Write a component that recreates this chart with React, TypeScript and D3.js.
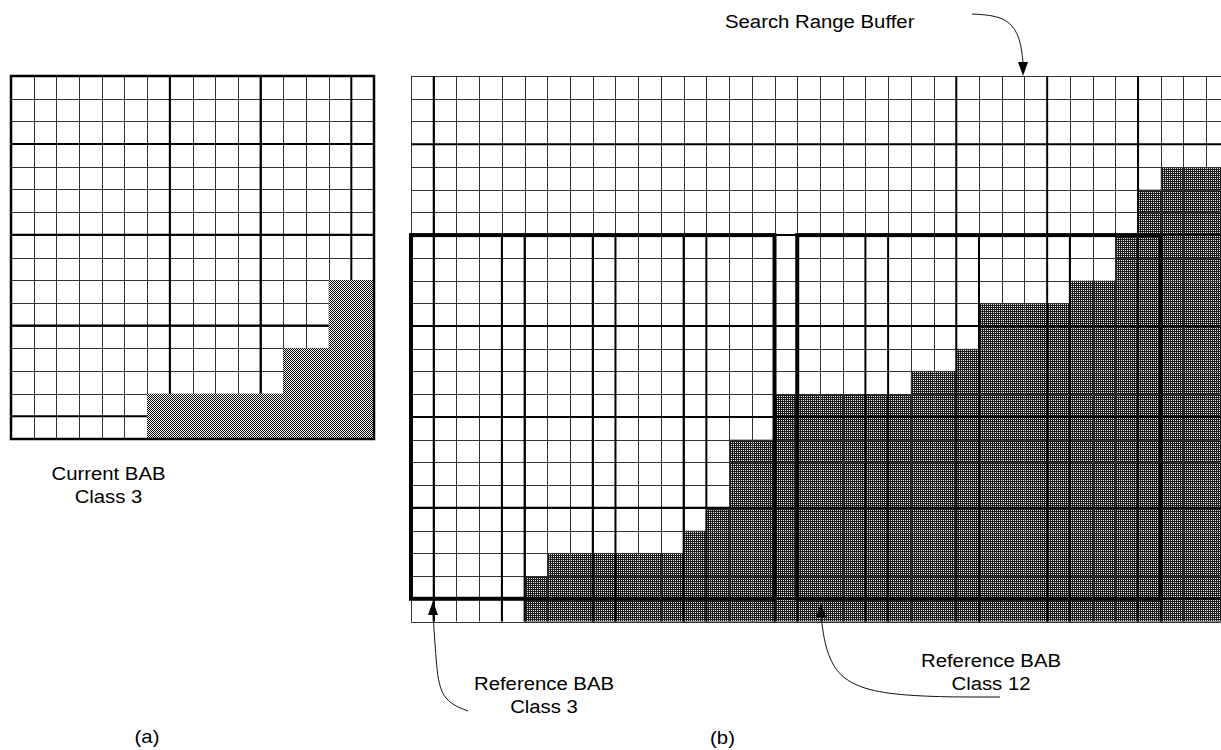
import React from 'react';
import * as d3 from 'd3';

// first shaded row for every column (grid rows count = no shading)
const currentBabShadeTop = [16, 16, 16, 16, 16, 16, 14, 14, 14, 14, 14, 14, 12, 12, 9, 9];
const searchBufferShadeTop = [
  24, 24, 24, 24, 24, 22, 21, 21, 21, 21, 21, 21, 20, 19, 16, 16, 14, 14,
  14, 14, 14, 14, 13, 13, 12, 10, 10, 10, 10, 9, 9, 7, 5, 4, 4, 4,
];

// macroblock boundaries drawn heavier
const leftHeavyCols = [7, 11, 15];
const leftHeavyRows = [3, 7, 11, 15];
const rightHeavyRows = [3, 7, 11, 15, 19, 23];
const rightHeavyColsTop = [1, 24, 28, 32];
const rightHeavyColsLow = [1, 4, 5, 8, 9, 12, 13, 16, 17, 20, 21, 24, 25, 28, 29, 32, 33];

// reference BAB boxes [col0, row0, col1, row1]
const refBoxes = [
  [0, 7, 16, 23],
  [17, 7, 33, 23],
];

const labels = [
  { text: 'Search Range Buffer', x: 725, y: 28, anchor: 'start' },
  { text: 'Current BAB', x: 108.5, y: 480, anchor: 'middle' },
  { text: 'Class 3', x: 108.5, y: 503, anchor: 'middle' },
  { text: 'Reference BAB', x: 544, y: 690, anchor: 'middle' },
  { text: 'Class 3', x: 544, y: 713, anchor: 'middle' },
  { text: 'Reference BAB', x: 991, y: 667, anchor: 'middle' },
  { text: 'Class 12', x: 991, y: 690, anchor: 'middle' },
  { text: '(a)', x: 147, y: 743, anchor: 'middle' },
  { text: '(b)', x: 722.5, y: 744, anchor: 'middle' },
];

const W = 1221;
const H = 750;
const px = (v: number) => Math.round(v) + 0.5;

export default function App() {
  const nL = currentBabShadeTop.length;
  const xL = d3.scaleLinear().domain([0, nL]).range([11, 374]);
  const yL = d3.scaleLinear().domain([0, 16]).range([76, 439]);

  const nR = searchBufferShadeTop.length;
  const xR = d3.scaleLinear().domain([0, 36]).range([411, 411 + 36 * 22.72]);
  const yR = d3.scaleLinear().domain([0, 24]).range([76, 621.5]);

  const font = { fontFamily: '"Liberation Sans", Arial, sans-serif', fontSize: 18, fill: '#000' };

  const line = d3.line<[number, number]>().curve(d3.curveBasis);

  return (
    <svg width={W} height={H} style={{ position: 'absolute', left: 0, top: 0, background: '#fff' }}>
      <defs>
        <pattern id="lightDots" width={2} height={2} patternUnits="userSpaceOnUse">
          <rect width={2} height={2} fill="#fff" />
          <rect x={0} y={0} width={1} height={1} fill="#000" shapeRendering="crispEdges" />
          <rect x={1} y={1} width={1} height={1} fill="#000" shapeRendering="crispEdges" />
        </pattern>
        <pattern id="darkDots" width={2} height={2} patternUnits="userSpaceOnUse">
          <rect width={2} height={2} fill="#1a1a1a" />
          <rect x={1} y={0} width={1} height={1} fill="#e8e8e8" shapeRendering="crispEdges" />
        </pattern>
      </defs>

      {/* (a) current BAB */}
      <g>
        {d3.range(1, nL).map((i) => (
          <line key={'lv' + i} x1={px(xL(i))} x2={px(xL(i))} y1={yL(0)} y2={yL(16)} stroke="#333" strokeWidth={1} />
        ))}
        {d3.range(1, 16).map((j) => (
          <line key={'lh' + j} x1={xL(0)} x2={xL(nL)} y1={px(yL(j))} y2={px(yL(j))} stroke="#333" strokeWidth={1} />
        ))}
        {leftHeavyCols.map((i) => (
          <line key={'lhv' + i} x1={xL(i)} x2={xL(i)} y1={yL(0)} y2={yL(16)} stroke="#000" strokeWidth={2} />
        ))}
        {leftHeavyRows.map((j) => (
          <line key={'lhh' + j} x1={xL(0)} x2={xL(nL)} y1={yL(j)} y2={yL(j)} stroke="#000" strokeWidth={2} />
        ))}
        {currentBabShadeTop.map((t, i) =>
          t < 16 ? (
            <rect key={'ls' + i} x={xL(i)} y={yL(t)} width={xL(i + 1) - xL(i) + 0.5} height={yL(16) - yL(t)} fill="url(#lightDots)" />
          ) : null,
        )}
        <rect x={xL(0)} y={yL(0)} width={xL(nL) - xL(0)} height={yL(16) - yL(0)} fill="none" stroke="#000" strokeWidth={2.5} />
      </g>

      {/* (b) search range buffer */}
      <g>
        {searchBufferShadeTop.map((t, i) =>
          t < 24 ? (
            <rect key={'rs' + i} x={xR(i)} y={yR(t)} width={xR(i + 1) - xR(i) + 0.5} height={yR(24) - yR(t)} fill="url(#darkDots)" />
          ) : null,
        )}
        {d3.range(1, nR + 1).map((i) => (
          <line key={'rv' + i} x1={px(xR(i))} x2={px(xR(i))} y1={yR(0)} y2={yR(24)} stroke="#333" strokeWidth={1} />
        ))}
        {d3.range(0, 25).map((j) => (
          <line key={'rh' + j} x1={xR(0)} x2={W} y1={px(yR(j))} y2={px(yR(j))} stroke="#333" strokeWidth={1} />
        ))}
        <line x1={px(xR(0))} x2={px(xR(0))} y1={yR(0)} y2={yR(24)} stroke="#333" strokeWidth={1} />
        {rightHeavyRows.map((j) => (
          <line key={'rhh' + j} x1={xR(0)} x2={W} y1={yR(j)} y2={yR(j)} stroke="#000" strokeWidth={2} />
        ))}
        {rightHeavyColsTop.map((i) => (
          <line key={'rht' + i} x1={xR(i)} x2={xR(i)} y1={yR(0)} y2={yR(7)} stroke="#000" strokeWidth={2} />
        ))}
        {rightHeavyColsLow.map((i) => (
          <line key={'rhl' + i} x1={xR(i)} x2={xR(i)} y1={yR(7)} y2={yR(24)} stroke="#000" strokeWidth={2} />
        ))}
        {refBoxes.map(([c0, r0, c1, r1], k) => (
          <rect key={'box' + k} x={xR(c0)} y={yR(r0)} width={xR(c1) - xR(c0)} height={yR(r1) - yR(r0)} fill="none" stroke="#000" strokeWidth={4} />
        ))}
      </g>

      {/* callout arrows */}
      <g fill="none" stroke="#111" strokeWidth={1}>
        <path d={line([[972, 14], [1005, 16], [1020, 35], [1023, 62]]) ?? ''} />
        <path d={line([[433, 614], [436, 660], [440, 700], [468, 711]]) ?? ''} />
        <path d={line([[821, 616], [828, 670], [870, 697], [1000, 697]]) ?? ''} />
      </g>
      <g fill="#000">
        <polygon points="1018,62 1028,62 1023,76" />
        <polygon points="428,615 438,615 433,601" />
        <polygon points="816,617 826,617 821,603" />
      </g>

      {labels.map((l, i) => (
        <text key={'t' + i} transform={`translate(${l.x},${l.y}) scale(1.13,1)`} textAnchor={l.anchor} {...font}>
          {l.text}
        </text>
      ))}
    </svg>
  );
}
